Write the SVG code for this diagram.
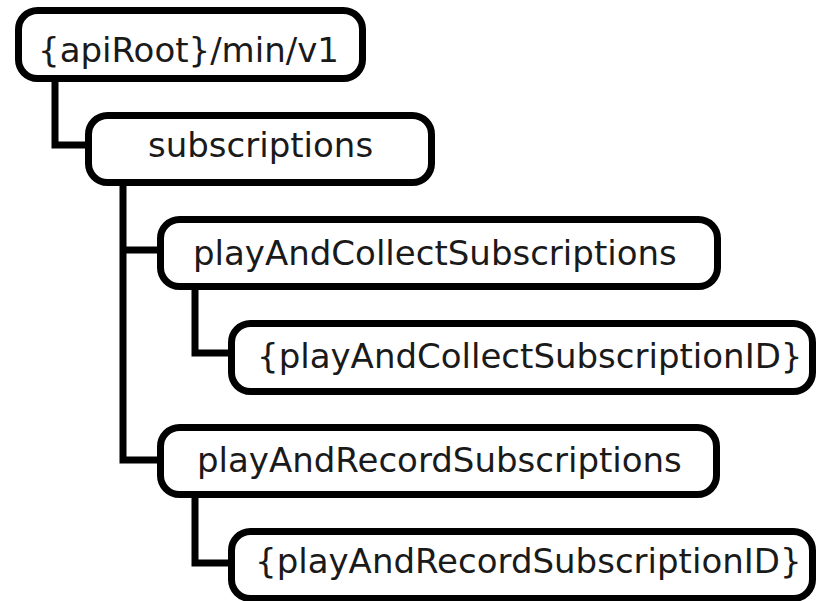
<svg xmlns="http://www.w3.org/2000/svg" width="817" height="601" viewBox="0 0 817 601">
<style>
.box{fill:#fff;stroke:#000;stroke-width:7}
.lbl{font-family:"DejaVu Sans",Verdana,sans-serif;font-size:34px;fill:#1a1a1a}
.conn{fill:none;stroke:#000;stroke-width:7;stroke-linejoin:miter}
</style>
<rect width="817" height="601" fill="#fff"/>
<g id="connectors">
<path class="conn" d="M55 80 V145 H90"/>
<path class="conn" d="M123 184 V460 H162"/>
<path class="conn" d="M123 250 H162"/>
<path class="conn" d="M195 288 V353 H233"/>
<path class="conn" d="M195 496 V563 H233"/>
</g>
<g id="n-apiroot">
<rect class="box" x="18.5" y="10.5" width="344" height="68" rx="19"/>
<text class="lbl" x="38" y="62">{apiRoot}/min/v1</text>
</g>
<g id="n-subscriptions">
<rect class="box" x="88.5" y="115.5" width="343" height="67" rx="19"/>
<text class="lbl" x="148" y="157">subscriptions</text>
</g>
<g id="n-pac">
<rect class="box" x="160.5" y="219.5" width="557" height="67" rx="19"/>
<text class="lbl" x="193" y="265">playAndCollectSubscriptions</text>
</g>
<g id="n-pac-id">
<rect class="box" x="231.5" y="323.5" width="581" height="68" rx="19"/>
<text class="lbl" x="257" y="368">{playAndCollectSubscriptionID}</text>
</g>
<g id="n-par">
<rect class="box" x="160.5" y="427.5" width="556" height="67" rx="19"/>
<text class="lbl" x="197" y="472">playAndRecordSubscriptions</text>
</g>
<g id="n-par-id">
<rect class="box" x="231.5" y="531.5" width="581" height="67" rx="19"/>
<text class="lbl" x="255" y="573">{playAndRecordSubscriptionID}</text>
</g>
</svg>
